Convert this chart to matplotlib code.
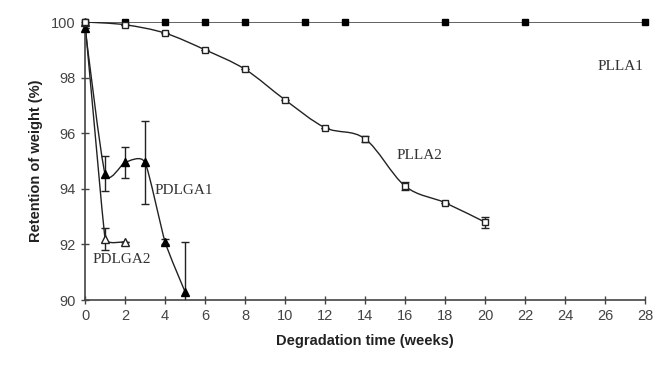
import numpy as np
import matplotlib
matplotlib.use('Agg')
import matplotlib.pyplot as plt
from matplotlib.path import Path
from matplotlib.patches import PathPatch

# data
plla1_t = [0, 2, 4, 6, 8, 11, 13, 18, 22, 28]
plla1_w = [100, 100, 100, 100, 100, 100, 100, 100, 100, 100]

plla2_t = [0, 2, 4, 6, 8, 10, 12, 14, 16, 18, 20]
plla2_w = [100, 99.9, 99.6, 99.0, 98.3, 97.2, 96.2, 95.8, 94.1, 93.5, 92.8]
plla2_e = [0, 0, 0, 0, 0, 0, 0, 0.1, 0.15, 0, 0.2]

pdlga1_t = [0, 1, 2, 3, 4, 5]
pdlga1_w = [99.8, 94.55, 94.95, 94.95, 92.1, 90.3]
pdlga1_e = [0, 0.62, 0.55, 1.5, 0.1, 1.8]

pdlga2_t = [0, 1, 2]
pdlga2_w = [100, 92.2, 92.1]
pdlga2_e = [0, 0.4, 0]


def smooth_path(x, y, k=1 / 6.0):
    # Excel-like smoothed line as cubic bezier segments
    x = np.asarray(x, float)
    y = np.asarray(y, float)
    verts = [(x[0], y[0])]
    codes = [Path.MOVETO]
    n = len(x)
    for i in range(n - 1):
        p0 = np.array([x[max(i - 1, 0)], y[max(i - 1, 0)]])
        p1 = np.array([x[i], y[i]])
        p2 = np.array([x[i + 1], y[i + 1]])
        p3 = np.array([x[min(i + 2, n - 1)], y[min(i + 2, n - 1)]])
        c1 = p1 + (p2 - p0) * k
        c2 = p2 - (p3 - p1) * k
        verts += [tuple(c1), tuple(c2), tuple(p2)]
        codes += [Path.CURVE4] * 3
    return Path(verts, codes)


fig = plt.figure(figsize=(6.55, 3.71), dpi=100)
ax = fig.add_axes([85 / 655, 1 - 300 / 371, 560 / 655, 278 / 371])

col = '#222222'
for t, w, k in [(plla1_t, plla1_w, 1 / 6), (plla2_t, plla2_w, 1 / 6),
                (pdlga1_t, pdlga1_w, 0.1), (pdlga2_t, pdlga2_w, 0.03)]:
    ax.add_patch(PathPatch(smooth_path(t, w, k), facecolor='none', edgecolor=col, lw=1.0, zorder=2))

ax.errorbar(plla2_t, plla2_w, yerr=plla2_e, fmt='none', ecolor=col, elinewidth=1, capsize=3, zorder=3)
ax.errorbar(pdlga1_t, pdlga1_w, yerr=pdlga1_e, fmt='none', ecolor=col, elinewidth=1, capsize=3, zorder=3)
ax.errorbar(pdlga2_t, pdlga2_w, yerr=pdlga2_e, fmt='none', ecolor=col, elinewidth=1, capsize=3, zorder=3)

ax.plot(plla1_t, plla1_w, 's', ms=5, mfc='black', mec='black', zorder=4, clip_on=False)
ax.plot(plla2_t, plla2_w, 's', ms=5, mfc='white', mec=col, mew=1, zorder=5, clip_on=False)
ax.plot(pdlga1_t, pdlga1_w, '^', ms=6, mfc='black', mec='black', zorder=4, clip_on=False)
ax.plot(pdlga2_t, pdlga2_w, '^', ms=6, mfc='white', mec=col, mew=1, zorder=4, clip_on=False)

ax.set_xlim(0, 28)
ax.set_ylim(90, 100)
ax.set_xticks(range(0, 29, 2))
ax.set_yticks(range(90, 101, 2))
for s in ['top', 'right']:
    ax.spines[s].set_visible(False)
for s in ['left', 'bottom']:
    ax.spines[s].set_color('#444444')
    ax.spines[s].set_linewidth(1.2)
ax.tick_params(direction='inout', length=6, width=1, color='#444444',
               labelsize=10.5, labelcolor='#444444')
for lab in ax.get_xticklabels() + ax.get_yticklabels():
    lab.set_family('Liberation Sans')

ax.set_xlabel('Degradation time (weeks)', family='Liberation Sans', fontweight='bold',
              fontsize=10.5, color='#222222', labelpad=8)
ax.set_ylabel('Retention of weight (%)', family='Liberation Sans', fontweight='bold',
              fontsize=10.5, color='#222222', labelpad=6)

tkw = dict(family='Liberation Serif', fontsize=11, color='#333333')
ax.text(27.9, 98.4, 'PLLA1', ha='right', va='center', **tkw)
ax.text(15.6, 95.2, 'PLLA2', ha='left', va='center', **tkw)
ax.text(3.5, 93.95, 'PDLGA1', ha='left', va='center', **tkw)
ax.text(0.4, 91.45, 'PDLGA2', ha='left', va='center', **tkw)

fig.savefig('out.png', dpi=100)
